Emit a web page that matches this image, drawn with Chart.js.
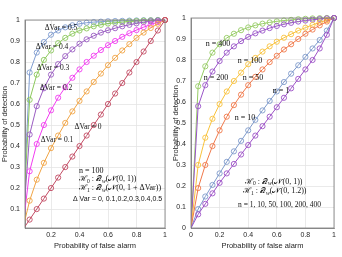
<!DOCTYPE html>
<html lang="en">
<head>
<meta charset="UTF-8">
<title>ROC curves</title>
<script src="https://cdn.jsdelivr.net/npm/chart.js"></script>
<style>
  body { margin: 0; background: #fff; }
  canvas { position: absolute; top: 0; }
  #left { left: 0; }
  #right { left: 171px; }
</style>
</head>
<body>
<canvas id="left" width="171" height="257"></canvas>
<canvas id="right" width="171" height="257"></canvas>
<script>
// probability of false alarm, same grid for every curve
const pfa = [0, 0.05, 0.1, 0.15, 0.2, 0.25, 0.3, 0.35, 0.4, 0.45, 0.5, 0.55, 0.6, 0.65, 0.7, 0.75, 0.8, 0.85, 0.9, 0.95, 1];

// left panel: n = 100, one curve per variance step
const pdVar0  = [0, 0.05, 0.1, 0.15, 0.2, 0.25, 0.3, 0.35, 0.4, 0.45, 0.5, 0.55, 0.6, 0.65, 0.7, 0.75, 0.8, 0.85, 0.9, 0.95, 1];
const pdVar01 = [0, 0.14, 0.24, 0.32, 0.39, 0.45, 0.51, 0.565, 0.615, 0.66, 0.705, 0.745, 0.785, 0.82, 0.855, 0.885, 0.915, 0.94, 0.962, 0.982, 1];
const pdVar02 = [0, 0.28, 0.41, 0.50, 0.57, 0.63, 0.68, 0.725, 0.765, 0.80, 0.83, 0.857, 0.88, 0.90, 0.92, 0.937, 0.952, 0.966, 0.978, 0.99, 1];
const pdVar03 = [0, 0.455, 0.59, 0.675, 0.74, 0.79, 0.828, 0.86, 0.887, 0.908, 0.925, 0.94, 0.951, 0.961, 0.97, 0.977, 0.984, 0.99, 0.994, 0.997, 1];
const pdVar04 = [0, 0.62, 0.74, 0.81, 0.855, 0.89, 0.915, 0.935, 0.95, 0.96, 0.97, 0.977, 0.983, 0.987, 0.99, 0.993, 0.995, 0.997, 0.998, 0.999, 1];
const pdVar05 = [0, 0.75, 0.845, 0.895, 0.93, 0.95, 0.965, 0.975, 0.982, 0.987, 0.99, 0.992, 0.994, 0.995, 0.996, 0.997, 0.998, 0.999, 0.999, 1, 1];

// right panel: ΔVar = 0.2, one curve per sample count
const pdN400 = [0, 0.675, 0.77, 0.835, 0.875, 0.905, 0.925, 0.942, 0.955, 0.965, 0.973, 0.979, 0.984, 0.988, 0.991, 0.994, 0.996, 0.998, 0.999, 1, 1];
const pdN200 = [0, 0.58, 0.68, 0.745, 0.795, 0.835, 0.865, 0.89, 0.91, 0.927, 0.94, 0.952, 0.962, 0.97, 0.977, 0.983, 0.988, 0.992, 0.995, 0.998, 1];
const pdN100 = [0, 0.30, 0.43, 0.52, 0.59, 0.65, 0.70, 0.74, 0.78, 0.81, 0.84, 0.865, 0.887, 0.906, 0.923, 0.94, 0.954, 0.967, 0.979, 0.99, 1];
const pdN50  = [0, 0.19, 0.30, 0.39, 0.465, 0.53, 0.585, 0.635, 0.68, 0.72, 0.755, 0.79, 0.82, 0.85, 0.875, 0.90, 0.925, 0.945, 0.965, 0.983, 1];
const pdN10  = [0, 0.09, 0.15, 0.205, 0.26, 0.315, 0.365, 0.415, 0.465, 0.515, 0.56, 0.605, 0.65, 0.695, 0.735, 0.775, 0.815, 0.855, 0.895, 0.94, 1];
const pdN1   = [0, 0.065, 0.115, 0.165, 0.215, 0.26, 0.305, 0.35, 0.395, 0.44, 0.485, 0.53, 0.575, 0.62, 0.665, 0.71, 0.755, 0.80, 0.855, 0.92, 1];

const xTicksLeft  = [0.2, 0.4, 0.6, 0.8, 1];
const yTicksLeft  = [0.1, 0.2, 0.3, 0.4, 0.5, 0.6, 0.7, 0.8, 0.9, 1];
const xTicksRight = [0, 0.2, 0.4, 0.6, 0.8, 1];
const yTicksRight = [0, 0.1, 0.2, 0.3, 0.4, 0.5, 0.6, 0.7, 0.8, 0.9, 1];

const SERIF = '"Liberation Serif", "DejaVu Serif", serif';
const SANS = '"Liberation Sans", Arial, sans-serif';

function series(pd, color) {
  return {
    data: pd.map((v, i) => ({x: pfa[i], y: v})),
    borderColor: color,
    borderWidth: 1,
    backgroundColor: 'rgba(0,0,0,0)',
    pointRadius: ctx => ctx.dataIndex === 0 ? 0 : 2.6,
    pointBorderWidth: 0.9,
    pointBorderColor: color,
    pointBackgroundColor: 'rgba(0,0,0,0)',
    tension: 0,
    clip: {left: 0, bottom: 0, top: 5, right: 5}
  };
}

// text with sub/superscript pieces
function T(t, size, dy, style, fam) {
  return {t: t, size: size || 7.5, dy: dy || 0, style: style || '', fam: fam || SERIF};
}
function drawRich(ctx, x, y, parts, align) {
  let w = 0;
  parts.forEach(p => {
    ctx.font = p.style + ' ' + p.size + 'px ' + p.fam;
    p.w = ctx.measureText(p.t).width;
    w += p.w;
  });
  let cx = align === 'center' ? x - w / 2 : x;
  parts.forEach(p => {
    ctx.font = p.style + ' ' + p.size + 'px ' + p.fam;
    ctx.fillText(p.t, cx, y + p.dy);
    cx += p.w;
  });
}

function notes(items) {
  return {
    id: 'notes',
    afterDraw(chart) {
      const {ctx, scales} = chart;
      ctx.save();
      ctx.fillStyle = '#111';
      ctx.textBaseline = 'middle';
      items.forEach(it => {
        drawRich(ctx, scales.x.getPixelForValue(it.at[0]), scales.y.getPixelForValue(it.at[1]), it.parts, it.align);
      });
      ctx.restore();
    }
  };
}

const box = {
  id: 'box',
  afterDatasetsDraw(chart) {
    const a = chart.chartArea, ctx = chart.ctx;
    ctx.save();
    ctx.strokeStyle = '#7a7a7a';
    ctx.lineWidth = 0.8;
    ctx.strokeRect(a.left, a.top, a.right - a.left, a.bottom - a.top);
    ctx.restore();
  }
};

function makeChart(id, datasets, o) {
  return new Chart(document.getElementById(id), {
    type: 'line',
    data: {datasets: datasets},
    options: {
      responsive: false,
      animation: false,
      events: [],
      layout: {padding: {left: 0, right: o.padRight, top: o.padTop, bottom: 0}},
      plugins: {legend: {display: false}, tooltip: {enabled: false}},
      scales: {
        x: {
          type: 'linear', min: o.xMin, max: 1,
          afterBuildTicks: s => { s.ticks = o.xTicks.map(v => ({value: v})); },
          afterFit: s => { s.height = 29; },
          grid: {color: '#e4e4e4', lineWidth: 0.8, drawTicks: false},
          border: {color: '#7a7a7a', width: 0.8},
          ticks: {padding: 3, color: '#262626', font: {family: SANS, size: 7}, maxRotation: 0,
                  callback: v => String(v)},
          title: {display: true, text: 'Probability of false alarm', color: '#262626',
                  font: {family: SANS, size: 7.5}, padding: {top: 0, bottom: 6.5}}
        },
        y: {
          type: 'linear', min: o.yMin, max: 1,
          afterBuildTicks: s => { s.ticks = o.yTicks.map(v => ({value: v})); },
          afterFit: s => { s.width = o.yWidth; },
          grid: {color: '#e4e4e4', lineWidth: 0.8, drawTicks: false},
          border: {color: '#7a7a7a', width: 0.8},
          ticks: {padding: 5, color: '#262626', font: {family: SANS, size: 7},
                  callback: v => String(v)},
          title: {display: true, text: 'Probability of detection', color: '#262626',
                  font: {family: SANS, size: 7.5}, padding: {top: 0, bottom: 0}}
        }
      }
    },
    plugins: [box, notes(o.notes)]
  });
}

const hyp = (k, tail, size) => [T('ℋ', size), T(k, size * 0.7, 2), T(' : ', size), T('𝒬', size),
  T('w', size * 0.7, 2, 'italic'), T('(𝒩(0, ' + tail + '))', size)];

makeChart('left', [
  series(pdVar0, '#c24a62'),
  series(pdVar01, '#f0a444'),
  series(pdVar02, '#f23cf0'),
  series(pdVar03, '#9a5cc2'),
  series(pdVar04, '#8cc85c'),
  series(pdVar05, '#7f9cd0')
], {
  xMin: 0.0175, yMin: 0.01, xTicks: xTicksLeft, yTicks: yTicksLeft,
  yWidth: 25, padRight: 6, padTop: 20,
  notes: [
    {at: [0.27, 0.962], align: 'center', parts: [T('ΔVar = 0.5')]},
    {at: [0.207, 0.871], align: 'center', parts: [T('ΔVar = 0.4')]},
    {at: [0.214, 0.771], align: 'center', parts: [T('ΔVar = 0.3')]},
    {at: [0.235, 0.676], align: 'center', parts: [T('ΔVar = 0.2')]},
    {at: [0.46, 0.49], align: 'center', parts: [T('ΔVar = 0')]},
    {at: [0.242, 0.429], align: 'center', parts: [T('ΔVar = 0.1')]},
    {at: [0.396, 0.282], parts: [T('n = 100', 8)]},
    {at: [0.396, 0.243], parts: hyp('0', '1', 8)},
    {at: [0.396, 0.2], parts: hyp('1', '1 + ΔVar', 8)},
    {at: [0.354, 0.149], parts: [T('Δ Var = 0, 0.1,0.2,0.3,0.4,0.5', 7, 0, '', SANS)]}
  ]
});

makeChart('right', [
  series(pdN1, '#9c50c6'),
  series(pdN10, '#7e9acb'),
  series(pdN50, '#f0784a'),
  series(pdN100, '#f8c23c'),
  series(pdN200, '#9a55c8'),
  series(pdN400, '#96cc64')
], {
  xMin: 0, yMin: 0, xTicks: xTicksRight, yTicks: yTicksRight,
  yWidth: 20, padRight: 8, padTop: 18,
  notes: [
    {at: [0.189, 0.878], align: 'center', parts: [T('n = 400', 8)]},
    {at: [0.175, 0.716], align: 'center', parts: [T('n = 200', 8)]},
    {at: [0.413, 0.797], align: 'center', parts: [T('n = 100', 8)]},
    {at: [0.434, 0.716], align: 'center', parts: [T('n = 50', 8)]},
    {at: [0.629, 0.654], align: 'center', parts: [T('n = 1', 8)]},
    {at: [0.378, 0.525], align: 'center', parts: [T('n = 10', 8)]},
    {at: [0.378, 0.22], parts: hyp('0', '1', 8)},
    {at: [0.364, 0.175], parts: hyp('1', '1.2', 8)},
    {at: [0.329, 0.108], parts: [T('n = 1, 10, 50, 100, 200, 400', 7.5)]}
  ]
});
</script>
</body>
</html>
